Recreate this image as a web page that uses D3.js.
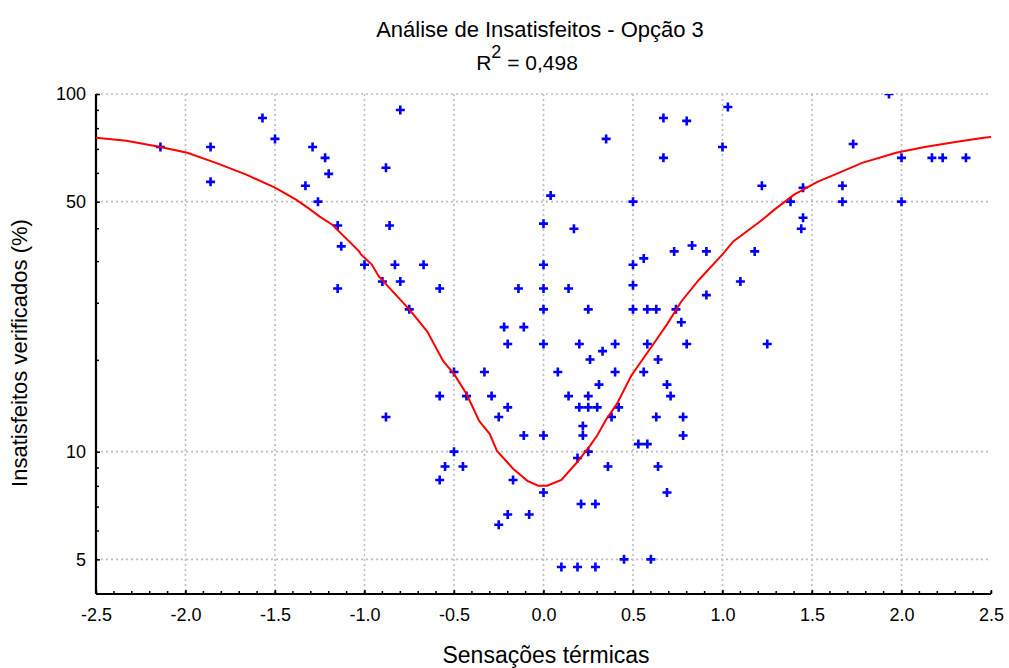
<!DOCTYPE html>
<html><head><meta charset="utf-8">
<script src="https://cdn.jsdelivr.net/npm/d3@7"></script>
<style>body{margin:0;background:#fff}svg{display:block}text{font-family:"Liberation Sans",Arial,sans-serif;fill:#000}</style>
</head><body><svg id="c" width="1009" height="668"></svg>
<script>
// Observed points: thermal sensation (x) and % dissatisfied (y)
const pointX = [-2.14,-1.86,-1.86,-1.57,-1.50,-1.29,-1.33,-1.26,-1.22,-1.20,-0.80,-0.88,-1.15,-1.13,-0.86,-1.00,-0.83,-0.67,-0.90,-0.80,-1.15,-0.58,-0.14,-0.75,-0.22,-0.11,-0.20,-0.50,-0.33,-0.58,-0.43,-0.29,-0.20,-0.25,-0.88,-0.11,-0.50,-0.55,-0.45,-0.58,-0.17,-0.20,-0.25,-0.08,
 0.00,0.22,0.22,0.78,0.53,0.58,0.25,0.19,0.36,0.64,0.00,0.69,0.21,0.29,0.45,0.60,0.10,0.19,0.29,
 0.00,0.50,0.56,0.00,0.14,0.50,1.10,0.00,0.25,0.50,0.58,0.63,0.74,0.91,0.77,0.00,0.20,0.40,0.58,0.80,0.33,0.26,0.64,0.08,0.40,0.56,0.31,0.69,0.14,0.25,0.71,0.20,0.25,0.30,0.42,0.38,0.63,0.78,
 0.35,0.67,0.80,1.03,0.67,1.00,0.04,0.50,0.00,0.17,0.73,0.83,0.91,1.18,1.22,
 1.93,1.73,2.00,2.17,2.23,2.36,1.45,1.67,1.38,1.67,2.00,1.45,1.44,1.25];
const pointY = [71.1,71.1,56.8,85.7,74.9,71.1,55.4,50.0,66.3,59.8,90.2,62.2,42.9,37.5,42.9,33.3,33.3,33.3,29.9,29.9,28.6,28.6,28.6,25.0,22.3,22.3,20.0,16.7,16.7,14.3,14.3,14.3,13.3,12.5,12.5,11.1,10.0,9.09,9.09,8.33,8.33,6.67,6.25,6.67,
 11.1,11.8,11.1,11.1,10.5,10.5,10.0,9.6,9.09,9.09,7.69,7.69,7.14,7.14,5.0,5.0,4.76,4.76,4.76,
 33.3,33.3,34.7,28.6,28.6,29.2,29.9,25.0,25.0,25.0,25.0,25.0,25.0,27.4,23.0,20.0,20.0,20.0,20.0,20.0,19.1,18.1,18.1,16.7,16.7,16.7,15.4,15.4,14.3,14.3,14.3,13.3,13.3,13.3,13.3,12.5,12.5,12.5,
 74.9,85.7,84.1,92.0,66.3,71.1,52.0,50.0,43.4,42.0,36.3,37.7,36.3,36.3,55.4,
 100,72.5,66.3,66.3,66.3,66.3,54.7,55.4,50.0,50.0,50.0,45.1,42.0,20.0];
// Fitted curve
const fitX = [-2.5,-2.33,-2.14,-1.99,-1.83,-1.66,-1.50,-1.38,-1.31,-1.25,-1.18,-1.03,-1.02,-0.96,-0.92,-0.75,-0.65,-0.56,-0.50,-0.43,-0.36,-0.30,-0.26,-0.17,-0.13,-0.09,-0.03,0.02,0.10,0.19,0.26,0.30,0.35,0.41,0.49,0.62,0.69,0.77,0.87,1.00,1.06,1.21,1.29,1.40,1.53,1.65,1.78,1.97,2.13,2.31,2.46,2.5];
const fitY = [75.4,74.0,71.1,68.5,64.2,59.5,54.7,50.6,47.8,45.4,43.1,36.3,35.6,33.4,30.9,25.0,21.7,17.9,16.5,14.5,12.2,11.2,10.05,8.96,8.62,8.29,8.03,8.03,8.34,9.37,10.4,11.1,12.3,13.6,16.3,20.2,22.7,26.3,30.3,35.6,38.7,44.0,47.5,52.3,56.8,60.2,64.2,68.5,71.1,73.5,75.4,75.8];
const xTicks = [-2.5,-2.0,-1.5,-1.0,-0.5,0.0,0.5,1.0,1.5,2.0,2.5];
const yTicks = [5,10,50,100];
const yMinor = [4,6,7,8,9,18,26,34,42,60,70,80,90];
const title = "Análise de Insatisfeitos - Opção 3";
const xLabel = "Sensações térmicas";
const yLabel = "Insatisfeitos verificados (%)";

const L=96,R=991,T=94,B=594;
const svg=d3.select("#c");
const x=d3.scaleLinear().domain([-2.5,2.5]).range([L,R]);
const y=d3.scaleLog().domain([4,100]).range([B,T]);

svg.append("defs").append("clipPath").attr("id","clip").append("rect").attr("x",L).attr("y",T).attr("width",R-L).attr("height",B-T);

const grid=svg.append("g").attr("stroke","#bdbdbd").attr("stroke-width",1.6).attr("stroke-dasharray","2,3");
grid.selectAll(".gx").data(xTicks.filter(d=>d>-2.5&&d<2.5)).join("line")
  .attr("x1",d=>x(d)).attr("x2",d=>x(d)).attr("y1",T).attr("y2",B);
grid.selectAll(".gy").data(yTicks).join("line")
  .attr("y1",d=>y(d)).attr("y2",d=>y(d)).attr("x1",L).attr("x2",R);

const fmtX=d=>d3.format(".1f")(d).replace("\u2212","-");
const xAxis=d3.axisBottom(x).tickValues(xTicks).tickFormat(fmtX).tickSizeInner(-4).tickSizeOuter(0).tickPadding(14);
const gx=svg.append("g").attr("transform",`translate(0,${B})`).call(xAxis);
const xMinor=d3.range(-25,26).map(d=>d/10);
gx.selectAll(".mn").data(xMinor).join("line").attr("class","mn").attr("x1",d=>x(d)).attr("x2",d=>x(d)).attr("y1",0).attr("y2",-3).attr("stroke","#000").attr("stroke-width",1.5);
const yAxis=d3.axisLeft(y).tickValues(yTicks).tickFormat(d3.format("d")).tickSizeInner(-4).tickSizeOuter(0).tickPadding(10);
const gy=svg.append("g").attr("transform",`translate(${L},0)`).call(yAxis);
gy.selectAll(".mn").data(yMinor).join("line").attr("class","mn").attr("y1",d=>y(d)).attr("y2",d=>y(d)).attr("x1",0).attr("x2",3).attr("stroke","#000").attr("stroke-width",1.5);
[gx,gy].forEach(g=>{
  g.select(".domain").attr("stroke","#000").attr("stroke-width",2.2);
  g.selectAll(".tick line").attr("stroke","#000").attr("stroke-width",1.5);
  g.selectAll(".tick text").style("font-size","18px").style("font-family","Liberation Sans, Arial, sans-serif");
});
gx.select(".domain").attr("d",`M${L},0H${R}`);
gy.select(".domain").attr("d",`M0,${B}V${T}`);

// points
const pts=pointX.map((d,i)=>[d,pointY[i]]);
const s=4.5;
svg.append("g").attr("clip-path","url(#clip)").selectAll("path").data(pts).join("path")
  .attr("d",d=>{const px=x(d[0]),py=y(d[1]);return `M${px-s},${py}H${px+s}M${px},${py-s}V${py+s}`;})
  .attr("stroke","#0000ff").attr("stroke-width",2.6).attr("fill","none");

// curve
const fit=fitX.map((d,i)=>[d,fitY[i]]);
svg.append("path").datum(fit).attr("clip-path","url(#clip)")
  .attr("d",d3.line().x(d=>x(d[0])).y(d=>y(d[1])))
  .attr("fill","none").attr("stroke","#ff0000").attr("stroke-width",2);

// texts
svg.append("text").attr("x",540).attr("y",37).attr("text-anchor","middle").style("font-size","22px").text(title);
const r2=svg.append("text").attr("x",527).attr("y",70).attr("text-anchor","middle").style("font-size","21px");
r2.append("tspan").text("R");
r2.append("tspan").attr("dy",-12).style("font-size","18px").text("2");
r2.append("tspan").attr("dy",12).text(" = 0,498");
svg.append("text").attr("x",546).attr("y",663).attr("text-anchor","middle").style("font-size","23px").text(xLabel);
svg.append("text").attr("transform","translate(27,353) rotate(-90)").attr("text-anchor","middle").style("font-size","22px").text(yLabel);
</script></body></html>
